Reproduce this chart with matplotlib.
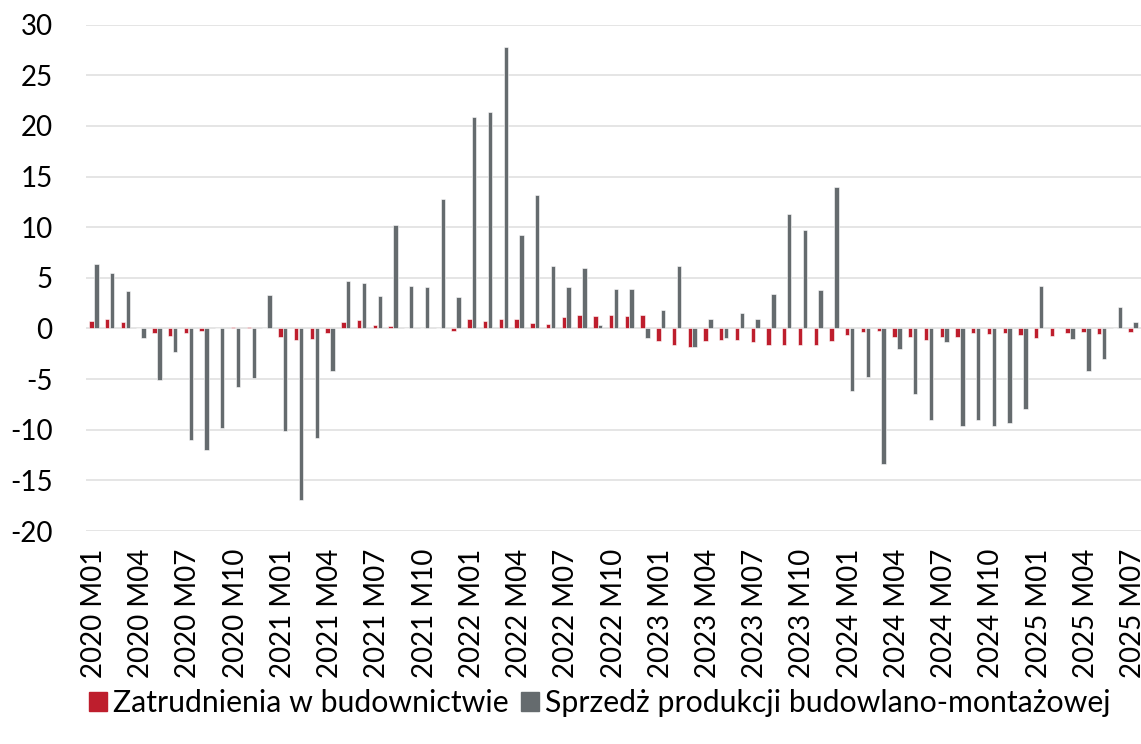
import matplotlib
matplotlib.use("Agg")
import matplotlib.pyplot as plt
from matplotlib.patches import Patch
import numpy as np

years = [2020, 2021, 2022, 2023, 2024, 2025]
months_per_year = [12, 12, 12, 12, 12, 7]
categories = [f"{y} M{m:02d}" for y, n in zip(years, months_per_year) for m in range(1, n + 1)]

zatrudnienia = [
    0.7, 0.95, 0.6, 0.0, -0.4, -0.7, -0.4, -0.2, 0.0, 0.1, 0.1, 0.0,
    -0.8, -1.1, -1.0, -0.4, 0.6, 0.8, 0.35, 0.2, 0.0, 0.05, 0.0, -0.2,
    0.9, 0.7, 0.95, 0.9, 0.5, 0.4, 1.1, 1.3, 1.2, 1.3, 1.2, 1.3,
    -1.2, -1.6, -1.8, -1.2, -1.1, -1.1, -1.3, -1.6, -1.6, -1.6, -1.6, -1.2,
    -0.6, -0.3, -0.2, -0.8, -0.8, -1.1, -0.8, -0.8, -0.4, -0.5, -0.4, -0.6,
    -0.9, -0.75, -0.4, -0.3, -0.55, 0.0, -0.3,
]
sprzedaz = [
    6.35, 5.5, 3.7, -0.9, -5.1, -2.3, -11.0, -12.0, -9.8, -5.8, -4.9, 3.35,
    -10.1, -16.9, -10.8, -4.2, 4.7, 4.45, 3.2, 10.2, 4.2, 4.1, 12.8, 3.1,
    20.9, 21.4, 27.8, 9.2, 13.2, 6.2, 4.1, 6.0, 0.3, 3.9, 3.9, -0.9,
    1.8, 6.2, -1.8, 0.9, -0.9, 1.5, 0.9, 3.4, 11.3, 9.7, 3.8, 14.0,
    -6.2, -4.8, -13.4, -2.0, -6.5, -9.0, -1.3, -9.6, -9.0, -9.6, -9.3, -8.0,
    4.2, 0.0, -1.05, -4.2, -3.0, 2.1, 0.65,
]
series_names = ["Zatrudnienia w budownictwie", "Sprzedż produkcji budowlano-montażowej"]

RED = "#BE1E2D"
GRAY = "#656B6E"

plt.rcParams['font.family'] = ['Lato', 'DejaVu Sans']
plt.rcParams['axes.unicode_minus'] = False
FS = 20

fig = plt.figure(figsize=(11.41, 7.44), dpi=100)
ax = fig.add_axes([86 / 1141, 1 - 531 / 744, 1 - 86 / 1141, (531 - 24.7) / 744])

x = np.arange(len(categories))
w = 0.28
ax.bar(x - 0.155, zatrudnienia, width=w, color=RED, edgecolor="white", linewidth=0.4, zorder=3)
ax.bar(x + 0.155, sprzedaz, width=w, color=GRAY, edgecolor="white", linewidth=0.4, zorder=3)

ax.set_xlim(-0.5, len(categories) - 0.5)
ax.set_ylim(-20, 30)
ax.set_yticks(np.arange(-20, 31, 5))
ax.yaxis.grid(True, color="#E3E3E3", linewidth=1.3, zorder=0)
ax.set_axisbelow(True)
for s in ax.spines.values():
    s.set_visible(False)

ax.set_xticks(x[::3])
ax.set_xticklabels(categories[::3], rotation=90, fontsize=FS)
ax.tick_params(axis='x', length=0, pad=13)
ax.tick_params(axis='y', length=0, pad=24, labelsize=FS)

handles = [Patch(facecolor=RED, edgecolor=RED), Patch(facecolor=GRAY, edgecolor=GRAY)]
fig.legend(handles, series_names, loc='center', bbox_to_anchor=(600 / 1141, 1 - 703 / 744),
           ncol=2, frameon=False, fontsize=21.8, handlelength=0.6, handleheight=0.6,
           handletextpad=0.2, columnspacing=0.4)

fig.savefig("out.png", dpi=100)
